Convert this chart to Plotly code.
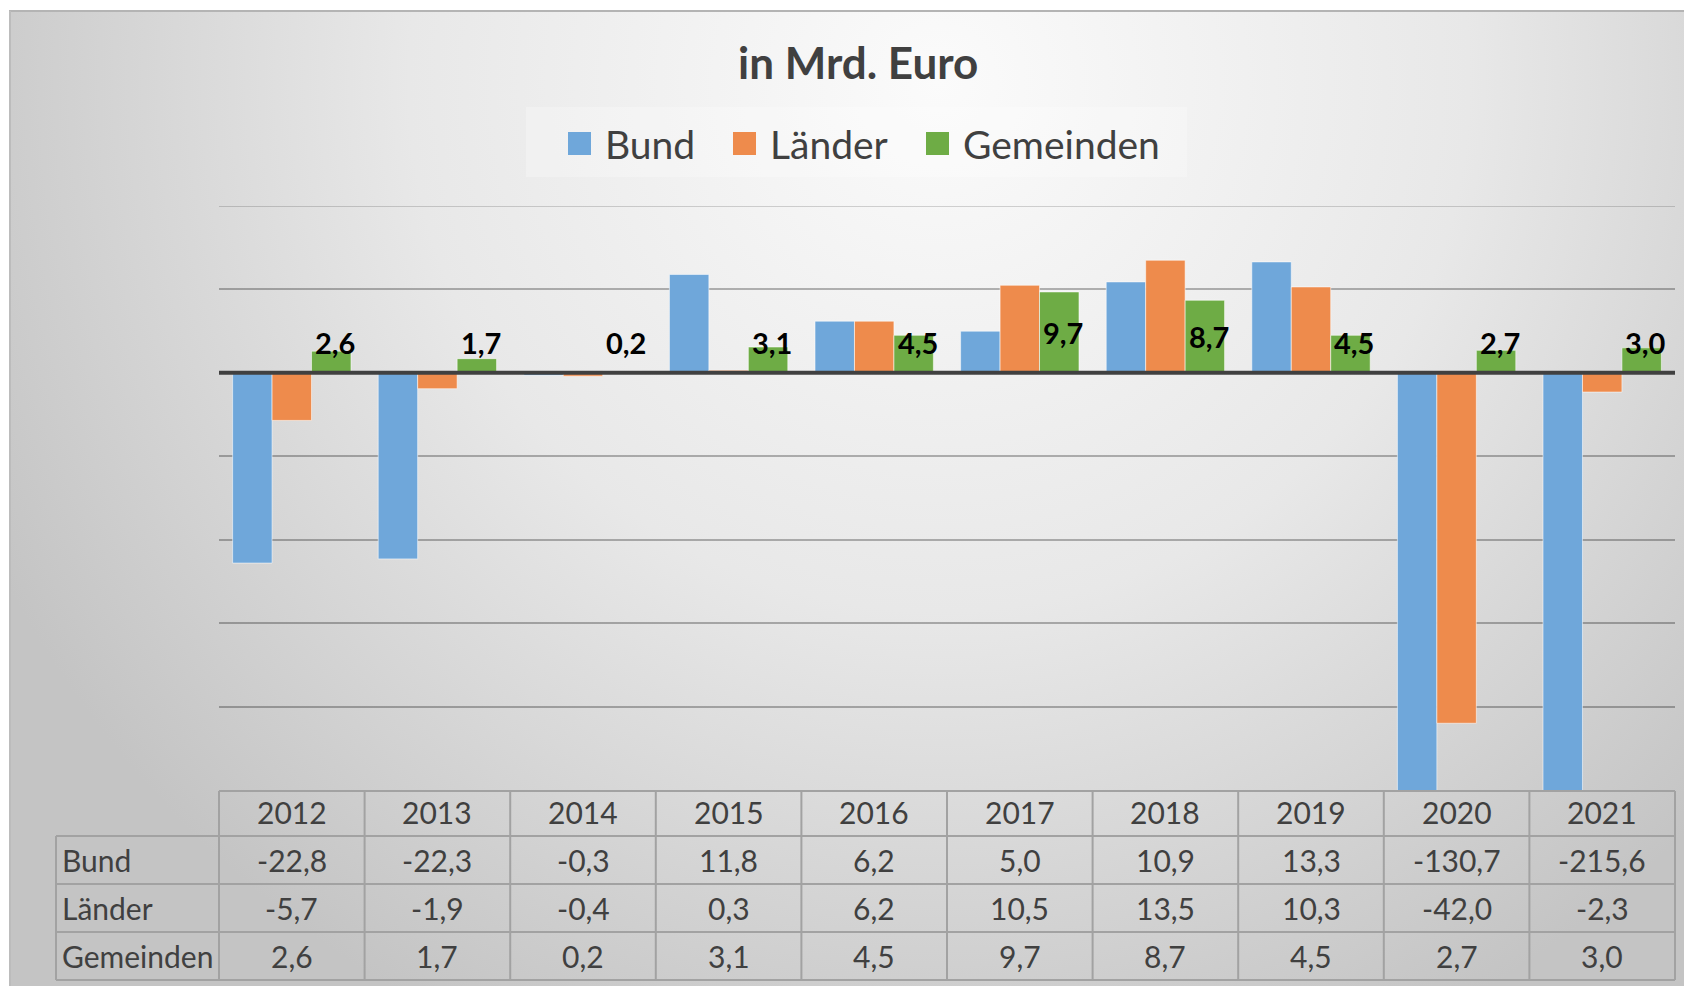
import plotly.graph_objects as go
import urllib.parse

# ---------------- data ----------------
years = ["2012", "2013", "2014", "2015", "2016", "2017", "2018", "2019", "2020", "2021"]
bund = [-22.8, -22.3, -0.3, 11.8, 6.2, 5.0, 10.9, 13.3, -130.7, -215.6]
laender = [-5.7, -1.9, -0.4, 0.3, 6.2, 10.5, 13.5, 10.3, -42.0, -2.3]
gemeinden = [2.6, 1.7, 0.2, 3.1, 4.5, 9.7, 8.7, 4.5, 2.7, 3.0]
series_names = ["Bund", "Länder", "Gemeinden"]
series_values = [bund, laender, gemeinden]
colors = ["#6fa7da", "#ee8b4c", "#6eac45"]
title_text = "in Mrd. Euro"

# ---------------- layout geometry (pixels) ----------------
W, H = 1684, 986
PL, PR, PT, PB = 219, 1675, 206, 790          # plot area
YMIN, YMAX = -50, 20
BARGAP = 0.187
FONT = "Lato"
TXT = "#404040"

def px_x(x):
    return (x - PL) / (PR - PL)

def px_y(y):
    return (PB - y) / (PB - PT)

def fmt(v):
    return f"{v:.1f}".replace(".", ",")

fig = go.Figure()
for name, vals, col in zip(series_names, series_values, colors):
    fig.add_trace(go.Bar(
        x=years, y=vals, name=name,
        marker=dict(color=col, line=dict(color="rgba(255,255,255,0.55)", width=1)),
        showlegend=False, hoverinfo="x+y+name",
    ))

# ---------------- background gradient ----------------
bg_w, bg_h = W - 9, H - 11
svg = (
    f"<svg xmlns='http://www.w3.org/2000/svg' width='{bg_w}' height='{bg_h}' viewBox='0 0 {bg_w} {bg_h}' preserveAspectRatio='none'>"
    "<defs><radialGradient id='g' gradientUnits='userSpaceOnUse' cx='930' cy='70' r='1060'>"
    "<stop offset='0' stop-color='#fbfbfb'/><stop offset='0.5' stop-color='#e8e8e8'/>"
    "<stop offset='1' stop-color='#c4c4c4'/></radialGradient></defs>"
    f"<rect x='0' y='0' width='{bg_w}' height='{bg_h}' fill='url(#g)'/></svg>"
)
src = "data:image/svg+xml;charset=utf-8," + urllib.parse.quote(svg)
fig.add_layout_image(dict(
    source=src, xref="paper", yref="paper",
    x=px_x(9), y=px_y(11), sizex=(W - 9) / (PR - PL), sizey=(H - 11) / (PB - PT),
    xanchor="left", yanchor="top", sizing="stretch", layer="below",
))

shapes = []
# chart border (top and left)
shapes.append(dict(type="line", xref="paper", yref="paper", x0=px_x(9), x1=px_x(W), y0=px_y(11), y1=px_y(11),
                   line=dict(color="#b4b4b4", width=2)))
shapes.append(dict(type="line", xref="paper", yref="paper", x0=px_x(10), x1=px_x(10), y0=px_y(11), y1=px_y(H),
                   line=dict(color="#bcbcbc", width=2)))
# faint legend box
shapes.append(dict(type="rect", xref="paper", yref="paper", x0=px_x(526), x1=px_x(1187), y0=px_y(107), y1=px_y(177),
                   fillcolor="rgba(255,255,255,0.25)", line=dict(width=0), layer="below"))
# top gridline (at range edge)
shapes.append(dict(type="line", xref="paper", yref="y", x0=0, x1=1, y0=YMAX, y1=YMAX,
                   line=dict(color="rgba(0,0,0,0.16)", width=2), layer="below"))
# zero line above bars
shapes.append(dict(type="line", xref="paper", yref="y", x0=0, x1=1, y0=0, y1=0,
                   line=dict(color="#404040", width=4), layer="above"))

# ---------------- data table ----------------
n = len(years)
row_edges = [791, 836, 884, 932, 980]
grid_col = "#a2a2a2"
shapes.append(dict(type="line", xref="paper", yref="paper", x0=0, x1=1, y0=px_y(row_edges[0]), y1=px_y(row_edges[0]),
                   line=dict(color=grid_col, width=2)))
for ye in row_edges[1:]:
    shapes.append(dict(type="line", xref="paper", yref="paper", x0=px_x(56), x1=1, y0=px_y(ye), y1=px_y(ye),
                       line=dict(color=grid_col, width=2)))
for i in range(n + 1):
    xp = i / n
    shapes.append(dict(type="line", xref="paper", yref="paper", x0=xp, x1=xp, y0=px_y(row_edges[0]), y1=px_y(row_edges[-1]),
                       line=dict(color=grid_col, width=2)))
shapes.append(dict(type="line", xref="paper", yref="paper", x0=px_x(56), x1=px_x(56), y0=px_y(row_edges[1]), y1=px_y(row_edges[-1]),
                   line=dict(color=grid_col, width=2)))

annotations = []
tfont = dict(family=FONT, size=30, color=TXT)
for i, yr in enumerate(years):
    yc = (row_edges[0] + row_edges[1]) / 2 - 2
    annotations.append(dict(x=i, xref="x", y=px_y(yc), yref="paper", text=yr, showarrow=False,
                            font=tfont, xanchor="center", yanchor="middle"))
for r, (name, vals) in enumerate(zip(series_names, series_values)):
    yc = (row_edges[r + 1] + row_edges[r + 2]) / 2
    annotations.append(dict(x=px_x(60), xref="paper", y=px_y(yc), yref="paper", text=name, showarrow=False,
                            font=tfont, xanchor="left", yanchor="middle"))
    for i, v in enumerate(vals):
        annotations.append(dict(x=i, xref="x", y=px_y(yc), yref="paper", text=fmt(v), showarrow=False,
                                font=tfont, xanchor="center", yanchor="middle"))

# ---------------- data labels on Gemeinden ----------------
bw = (1 - BARGAP) / 3
for i, v in enumerate(gemeinden):
    annotations.append(dict(x=i + bw, xref="x", y=max(v / 2, 3.6), yref="y", text=f"<b>{fmt(v)}</b>",
                            showarrow=False, font=dict(family=FONT, size=29, color="#000000"),
                            xanchor="center", yanchor="middle", xshift=4))

# ---------------- title ----------------
annotations.append(dict(x=px_x(858), xref="paper", y=px_y(62), yref="paper", text=f"<b>{title_text}</b>",
                        showarrow=False, font=dict(family=FONT, size=44, color=TXT),
                        xanchor="center", yanchor="middle"))

# ---------------- manual legend ----------------
leg_sw_x = [568, 733, 926]
leg_y0, leg_y1 = 132, 155
for name, col, sx in zip(series_names, colors, leg_sw_x):
    shapes.append(dict(type="rect", xref="paper", yref="paper", x0=px_x(sx), x1=px_x(sx + 23),
                       y0=px_y(leg_y1), y1=px_y(leg_y0), fillcolor=col, line=dict(width=0)))
    annotations.append(dict(x=px_x(sx + 35), xref="paper", y=px_y(144), yref="paper", text=name,
                            showarrow=False, font=dict(family=FONT, size=39, color=TXT),
                            xanchor="left", yanchor="middle"))

fig.update_layout(
    width=W, height=H,
    margin=dict(l=PL, r=W - PR, t=PT, b=H - PB, pad=0),
    paper_bgcolor="white", plot_bgcolor="rgba(0,0,0,0)",
    barmode="group", bargap=BARGAP, bargroupgap=0,
    showlegend=False,
    shapes=shapes, annotations=annotations,
    font=dict(family=FONT, color=TXT),
)
fig.update_xaxes(type="category", range=[-0.5, n - 0.5], showticklabels=False, showgrid=False,
                 zeroline=False, showline=False, ticks="")
fig.update_yaxes(range=[YMIN, YMAX], dtick=10, tick0=0, showticklabels=False, showgrid=True,
                 gridcolor="rgba(0,0,0,0.28)", gridwidth=2,
                 zeroline=False, showline=False, ticks="")

fig.write_html("out.html", config={"displayModeBar": False},
               post_script="document.body.style.margin='0';document.body.style.overflow='hidden';")
